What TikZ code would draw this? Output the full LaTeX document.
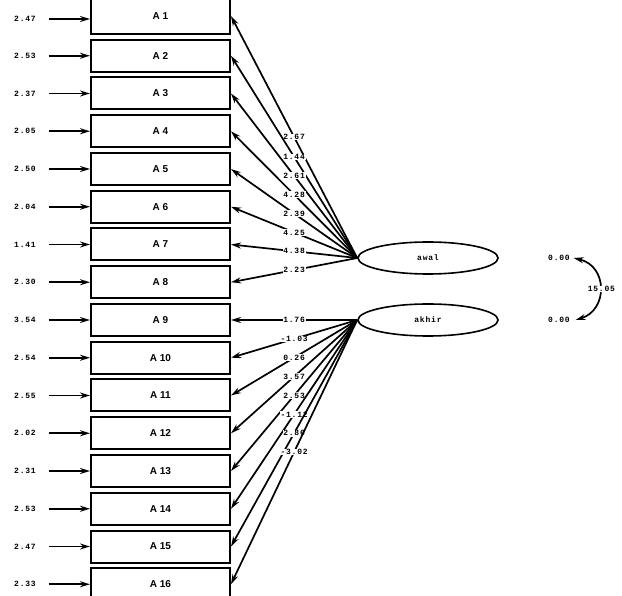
\documentclass[tikz,border=0pt]{standalone}
\usepackage{fontspec}
\newfontfamily\lblfont[LetterSpace=10]{Liberation Mono}
\newfontfamily\boxfont{Liberation Sans}
\usetikzlibrary{shapes.geometric,arrows.meta}
\begin{document}
\begin{tikzpicture}[x=1pt,y=-1pt,
  obs/.style={draw, line width=2pt, minimum width=139pt, minimum height=32pt, inner sep=0pt,
    font=\boxfont\bfseries\fontsize{10}{10}\selectfont},
  lat/.style={draw, ellipse, line width=1.6pt, minimum width=140pt, minimum height=32pt, inner sep=0pt,
    font=\lblfont\bfseries\fontsize{8}{8}\selectfont},
  num/.style={font=\lblfont\bfseries\fontsize{8}{8}\selectfont, inner sep=0.6pt},
  tip/.style={-{Stealth[length=10pt,width=6pt]}},
  err/.style={line width=1.7pt, tip},
  load/.style={line width=1.7pt, tip},
  lbl/.style={num, fill=white, pos=0.5}
]
\useasboundingbox (0,0) rectangle (622,596);
% observed boxes with error terms
\foreach \i/\e in {1/2.47,2/2.53,3/2.37,4/2.05,5/2.50,6/2.04,7/1.41,8/2.30,
                   9/3.54,10/2.54,11/2.55,12/2.02,13/2.31,14/2.53,15/2.47,16/2.33}{
  \ifnum\i=1
    \node[obs, minimum height=36pt] (A\i) at (160.5,16) {A \i};
    \node[num] (e\i) at (25,19) {\e};
  \else
    \node[obs] (A\i) at (160.5,{18+(\i-1)*37.75}) {A \i};
    \node[num] (e\i) at (25,{18+(\i-1)*37.75}) {\e};
  \fi
  \draw[err] ([xshift=12pt]e\i.east) -- (A\i.west |- e\i.east);
}
% latent variables
\node[lat] (awal) at (428,258) {awal};
\node[lat] (akhir) at (428,320) {akhir};
% loadings
\foreach \i/\l in {1/2.67,2/1.44,3/2.61,4/4.28,5/2.39,6/4.25,7/4.38,8/2.23}{
  \draw[load] (awal.west) -- (A\i.east |- A\i.center) node[lbl] {\l};
}
\foreach \i/\l in {9/1.76,10/-1.03,11/0.26,12/3.57,13/2.53,14/-1.12,15/2.86,16/-3.02}{
  \draw[load] (akhir.west) -- (A\i.east) node[lbl] {\l};
}
% variances and covariance
\node[num] (v1) at (559,258) {0.00};
\node[num] (v2) at (559,320) {0.00};
\draw[line width=1.7pt, {Stealth[length=10pt,width=6pt]}-{Stealth[length=10pt,width=6pt]}]
  ([xshift=3pt]v1.east) .. controls (608,266) and (608,310) .. ([xshift=5pt]v2.east);
\node[num, fill=white, anchor=west] (cov) at (587,289) {15.05};
\end{tikzpicture}
\end{document}
